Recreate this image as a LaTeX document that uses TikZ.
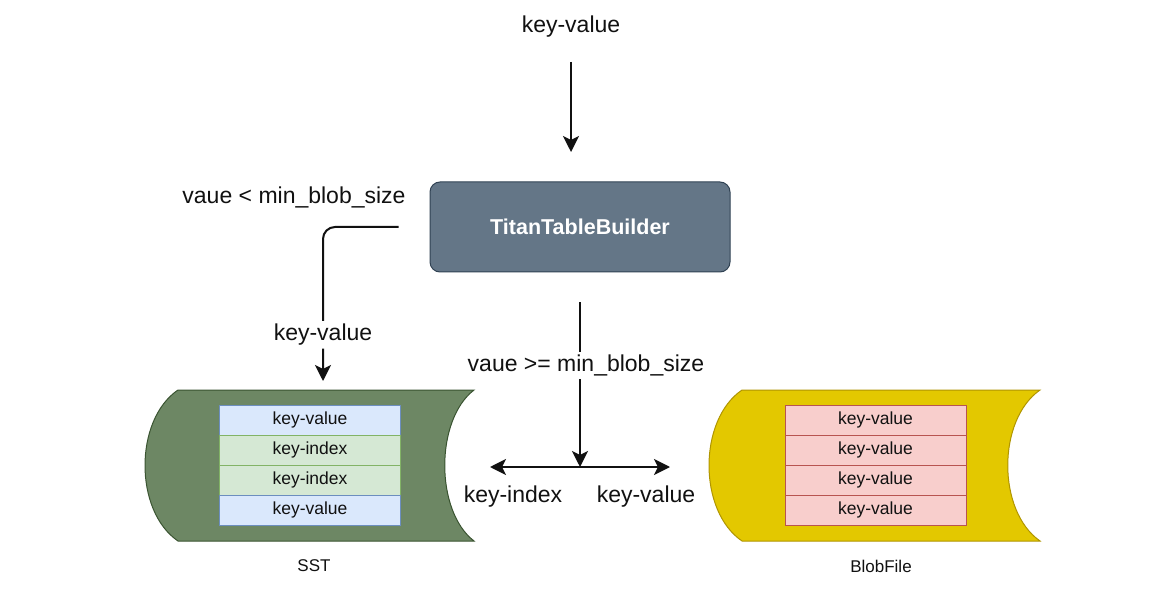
\documentclass[tikz,border=0pt]{standalone}
\usepackage{fontspec}
\setmainfont{Liberation Sans}
\usetikzlibrary{positioning,arrows.meta}
\definecolor{ink}{HTML}{111111}
\definecolor{slate}{HTML}{647687}
\definecolor{slateline}{HTML}{314354}
\definecolor{moss}{HTML}{6D8764}
\definecolor{mossline}{HTML}{3A5431}
\definecolor{gold}{HTML}{E3C800}
\definecolor{goldline}{HTML}{B09500}
\definecolor{cellblue}{HTML}{DAE8FC}
\definecolor{cellblueline}{HTML}{6C8EBF}
\definecolor{cellgreen}{HTML}{D5E8D4}
\definecolor{cellgreenline}{HTML}{82B366}
\definecolor{cellred}{HTML}{F8CECC}
\definecolor{cellredline}{HTML}{B85450}

\tikzset{
  lbl/.style={inner sep=3pt,text=ink,font=\fontsize{23}{26}\selectfont},
  caption/.style={inner sep=0pt,text=ink,font=\fontsize{17}{20}\selectfont},
  flow/.style={ink,line width=2pt,-{Stealth[length=16pt,width=16pt,inset=4pt]}},
  kvcell/.style={draw,line width=1pt,minimum width=181pt,minimum height=30pt,
    inner sep=0pt,outer sep=0pt,text=ink,font=\fontsize{17.5}{20}\selectfont},
  bluecell/.style={kvcell,fill=cellblue,draw=cellblueline},
  greencell/.style={kvcell,fill=cellgreen,draw=cellgreenline},
  redcell/.style={kvcell,fill=cellred,draw=cellredline},
  builderbox/.style={draw=slateline,fill=slate,line width=1pt,rounded corners=10pt,
    minimum width=300pt,minimum height=90pt,text=white,
    font=\bfseries\fontsize{21.5}{24}\selectfont}
}

\begin{document}
\begin{tikzpicture}[x=1pt,y=-1pt]

  \fill[white] (0,0) rectangle (1164,593);
  \useasboundingbox (0,0) rectangle (1164,593);

  % ---------------------------------------------------------------- STORAGE SHAPES
  \filldraw[fill=moss,draw=mossline,line width=1pt]
    (178,390) -- (474,390) .. controls (435,420) and (435,511) .. (474,541)
    -- (178,541) .. controls (134,511) and (134,420) .. (178,390) -- cycle;
  \filldraw[fill=gold,draw=goldline,line width=1pt]
    (742,390) -- (1040,390) .. controls (997,420) and (997,511) .. (1040,541)
    -- (742,541) .. controls (698,511) and (698,420) .. (742,390) -- cycle;

  % ---------------------------------------------------------------- SST TABLE
  \node[bluecell] (sst1) at (310,420) {key-value};
  \node[greencell,below=0pt of sst1] (sst2) {key-index};
  \node[greencell,below=0pt of sst2] (sst3) {key-index};
  \node[bluecell,below=0pt of sst3] (sst4) {key-value};
  \node[caption] (sstname) at (314,566) {SST};

  % ---------------------------------------------------------------- BLOB TABLE
  \node[redcell] (blob1) at (875.5,420) {key-value};
  \node[redcell,below=0pt of blob1] (blob2) {key-value};
  \node[redcell,below=0pt of blob2] (blob3) {key-value};
  \node[redcell,below=0pt of blob3] (blob4) {key-value};
  \node[caption] (blobname) at (881,566) {BlobFile};

  % ---------------------------------------------------------------- BUILDER
  \node[lbl] (kvin) at (571,27) {key-value};
  \node[builderbox] (builder) at (580,227) {TitanTableBuilder};
  \node[lbl] (small) at (294,197) {vaue < min\_blob\_size};

  \coordinate (tin) at (571,152);
  \coordinate (sstin) at (323,381);
  \coordinate (fork) at (580,467);
  \coordinate (kiend) at (490,467);
  \coordinate (kvend) at (670,467);

  \draw[flow,shorten <=21pt] (kvin) -- (tin);
  \draw[flow,rounded corners=12pt,shorten <=31pt] (builder.west) -| (sstin)
    node[lbl,fill=white,pos=0.85] {key-value};
  \draw[flow,shorten <=30pt] (builder.south) -- (fork)
    node[lbl,fill=white,pos=0.48,xshift=6pt] {vaue >= min\_blob\_size};
  \draw[flow] (fork) -- (kiend);
  \draw[flow] (fork) -- (kvend);

  \node[lbl] (kiout) at (513,497) {key-index};
  \node[lbl] (kvout) at (646,497) {key-value};

\end{tikzpicture}
\end{document}
